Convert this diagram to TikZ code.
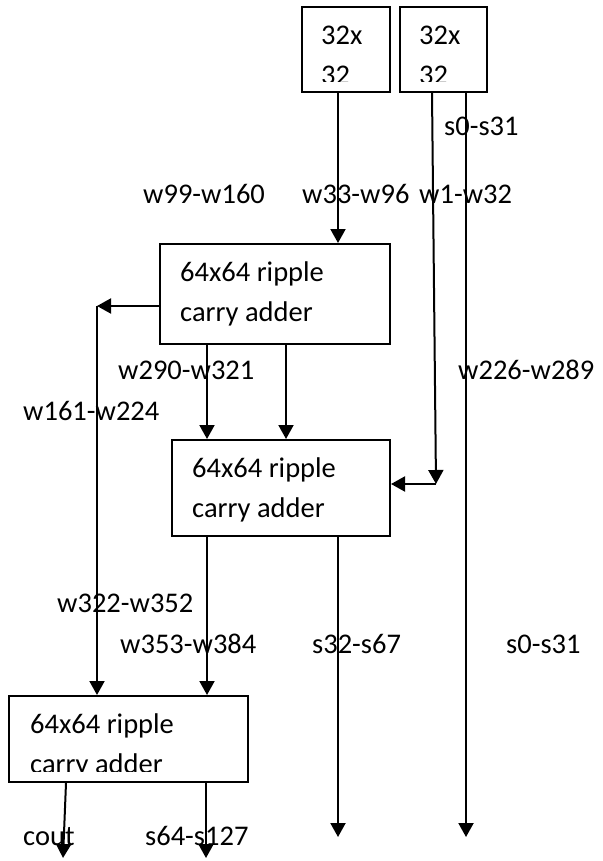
\documentclass[tikz,border=0pt]{standalone}
\usepackage{fontspec}
\setmainfont{Carlito}
\usetikzlibrary{arrows.meta,calc}

\begin{document}
\begin{tikzpicture}[x=1pt, y=-1pt,
    box/.style={draw, line width=2pt, inner sep=0pt},
    boxtext/.style={anchor=base west, inner sep=0pt, align=left, font=\fontsize{28.5}{40}\selectfont},
    lbl/.style={anchor=base west, inner sep=0pt, font=\fontsize{28.5}{34}\selectfont},
    arrow/.style={-{Triangle[width=15pt,length=14pt]}, line width=2pt}
]
    \useasboundingbox (0,0) rectangle (602,861);

    \node[box, minimum width=88pt, minimum height=85pt] (t1) at (346,49.5) {};
    \node[box, minimum width=87pt, minimum height=85pt] (t2) at (443.5,49.5) {};
    \node[box, minimum width=230pt, minimum height=100pt] (a1) at (275,294) {};
    \node[box, minimum width=218pt, minimum height=96pt] (b1) at (281,488) {};
    \node[box, minimum width=239pt, minimum height=86pt] (c1) at (128.5,739) {};

    \begin{scope}
        \clip (t1.north west) rectangle ($(t1.south east)+(0,-11)$);
        \node[boxtext] (t1txt) at ($(t1.north west)+(20,78.5)$) {32x\\32};
    \end{scope}
    \begin{scope}
        \clip (t2.north west) rectangle ($(t2.south east)+(0,-11)$);
        \node[boxtext] (t2txt) at ($(t2.north west)+(20,78.5)$) {32x\\32};
    \end{scope}
    \node[boxtext] (a1txt) at ($(a1.north west)+(21,78.5)$) {64x64 ripple\\carry adder};
    \node[boxtext] (b1txt) at ($(b1.north west)+(21,78.5)$) {64x64 ripple\\carry adder};
    \begin{scope}
        \clip (c1.north west) rectangle ($(c1.south east)+(0,-12)$);
        \node[boxtext] (c1txt) at ($(c1.north west)+(22,78.5)$) {64x64 ripple\\carry adder};
    \end{scope}

    \coordinate (join) at (436,484);
    \coordinate (split) at (97,306);
    \coordinate (s0end) at (466,837);
    \coordinate (s32end) at (338,837);
    \coordinate (coutend) at (63,858);
    \coordinate (s64end) at (206,858);

    \draw[arrow] ([xshift=-8pt]t1.south) -- ([xshift=-8pt]t1.south |- a1.north);
    \draw[arrow] ([xshift=-11.5pt]t2.south) -- (join);
    \draw[arrow] (join) -- (b1.east |- join);
    \draw[arrow] ([xshift=22.5pt]t2.south) -- (s0end);
    \draw[arrow] (a1.west |- split) -- (split);
    \draw[arrow] (split) -- (split |- c1.north);
    \draw[arrow] ([xshift=-68pt]a1.south) -- ([xshift=-68pt]a1.south |- b1.north);
    \draw[arrow] ([xshift=11pt]a1.south) -- ([xshift=11pt]a1.south |- b1.north);
    \draw[arrow] ([xshift=-74pt]b1.south) -- ([xshift=-74pt]b1.south |- c1.north);
    \draw[arrow] ([xshift=57pt]b1.south) -- (s32end);
    \draw[arrow] ([xshift=-62.5pt]c1.south) -- (coutend);
    \draw[arrow] ([xshift=77.5pt]c1.south) -- (s64end);

    \node[lbl] (s0top) at (444,136) {s0-s31};
    \node[lbl] (w99) at (143,204) {w99-w160};
    \node[lbl] (w33) at (302,204) {w33-w96};
    \node[lbl] (w1) at (419,204) {w1-w32};
    \node[lbl] (w290) at (118,379) {w290-w321};
    \node[lbl] (w226) at (458,379) {w226-w289};
    \node[lbl] (w161) at (23,420) {w161-w224};
    \node[lbl] (w322) at (57,612) {w322-w352};
    \node[lbl] (w353) at (120,653) {w353-w384};
    \node[lbl] (s32) at (312,653) {s32-s67};
    \node[lbl] (s0bot) at (506,653) {s0-s31};
    \node[lbl] (cout) at (23,845) {cout};
    \node[lbl] (s64) at (145,845) {s64-s127};
\end{tikzpicture}
\end{document}
